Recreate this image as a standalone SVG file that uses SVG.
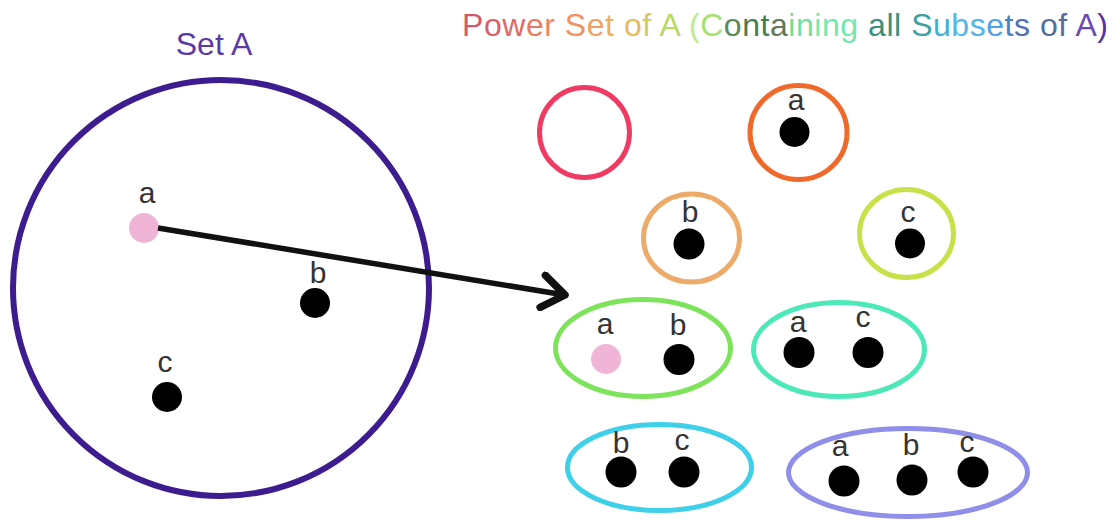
<svg xmlns="http://www.w3.org/2000/svg" width="1115" height="520" viewBox="0 0 1115 520">
<defs>
<style>
.lbl{font-family:"Liberation Sans",Arial,sans-serif;font-size:30px;fill:#333;text-anchor:middle}
.dot{fill:#000}
.pink{fill:#f0b4d6}
.set{fill:none;stroke-width:5}
.title{font-family:"Liberation Sans",Arial,sans-serif;font-size:32px}
</style>
<marker id="chev" markerUnits="userSpaceOnUse" markerWidth="40" markerHeight="40" viewBox="-22 -16 26 32" refX="0" refY="0" orient="auto">
<path d="M-18,-13 L0,0 L-18,13" fill="none" stroke="#111" stroke-width="6" stroke-linecap="round" stroke-linejoin="round"/>
</marker>
</defs>
<rect width="1115" height="520" fill="#fff"/>

<g id="title">
<text class="title" x="462" y="36" textLength="646" lengthAdjust="spacing"><tspan fill="#d05a6a">P</tspan><tspan fill="#d8606a">o</tspan><tspan fill="#e06868">w</tspan><tspan fill="#e87a62">e</tspan><tspan fill="#ec8560">r</tspan> <tspan fill="#f09060">S</tspan><tspan fill="#f0a062">e</tspan><tspan fill="#e8b060">t</tspan> <tspan fill="#e8b860">o</tspan><tspan fill="#d8c860">f</tspan> <tspan fill="#b8d860">A</tspan> <tspan fill="#c0e890">(</tspan><tspan fill="#a8e070">C</tspan><tspan fill="#5a8a58">o</tspan><tspan fill="#4a7a50">n</tspan><tspan fill="#4a7a50">t</tspan><tspan fill="#607a5a">a</tspan><tspan fill="#80d890">i</tspan><tspan fill="#70e0a0">n</tspan><tspan fill="#78e8b0">i</tspan><tspan fill="#70e8b0">n</tspan><tspan fill="#70e8b0">g</tspan> <tspan fill="#3a9080">all</tspan> <tspan fill="#40a0a0">S</tspan><tspan fill="#40b0d0">u</tspan><tspan fill="#50b8e8">b</tspan><tspan fill="#50b0f0">s</tspan><tspan fill="#50a0e8">e</tspan><tspan fill="#5080c0">t</tspan><tspan fill="#5070b0">s</tspan> <tspan fill="#5070a0">o</tspan><tspan fill="#5a6aa0">f</tspan> <tspan fill="#6a4ab0">A</tspan><tspan fill="#5a30a0">)</tspan></text>
</g>

<g id="setA">
<text x="214" y="55" font-family="Liberation Sans, Arial, sans-serif" font-size="32" fill="#5b3aa6" text-anchor="middle">Set A</text>
<circle cx="221" cy="288" r="208" fill="none" stroke="#3d1c8f" stroke-width="6"/>
<circle class="pink" cx="144" cy="228" r="15"/>
<text class="lbl" x="147" y="203">a</text>
<circle class="dot" cx="315" cy="303" r="15"/>
<text class="lbl" x="318" y="283">b</text>
<circle class="dot" cx="167" cy="397" r="15"/>
<text class="lbl" x="165" y="372">c</text>
</g>

<g id="connectors">
<path d="M158,228 L565,295" fill="none" stroke="#111" stroke-width="5.5" marker-end="url(#chev)"/>
</g>

<g id="subset-empty">
<circle class="set" cx="584.5" cy="132.5" r="45" stroke="#ef3a63"/>
</g>

<g id="subset-a">
<ellipse class="set" cx="798.5" cy="132.5" rx="48.5" ry="47" stroke="#ef6a2a"/>
<text class="lbl" x="796" y="110">a</text>
<circle class="dot" cx="794.5" cy="132" r="15"/>
</g>

<g id="subset-b">
<ellipse class="set" cx="691.5" cy="238" rx="48" ry="44" stroke="#eeaa68"/>
<text class="lbl" x="690" y="222">b</text>
<circle class="dot" cx="689" cy="244" r="15.5"/>
</g>

<g id="subset-c">
<ellipse class="set" cx="906.5" cy="233.5" rx="47" ry="44" stroke="#c8e04a"/>
<text class="lbl" x="908" y="222">c</text>
<circle class="dot" cx="910" cy="243.5" r="15"/>
</g>

<g id="subset-ab">
<ellipse class="set" cx="643" cy="348" rx="87.5" ry="48.5" stroke="#7de35a"/>
<text class="lbl" x="605" y="334">a</text>
<text class="lbl" x="678" y="335">b</text>
<circle class="pink" cx="606" cy="359" r="15"/>
<circle class="dot" cx="679" cy="359.5" r="15.5"/>
</g>

<g id="subset-ac">
<ellipse class="set" cx="839" cy="349.5" rx="85.5" ry="47" stroke="#4de8b8"/>
<text class="lbl" x="798" y="332">a</text>
<text class="lbl" x="863" y="327">c</text>
<circle class="dot" cx="799" cy="352.5" r="15.5"/>
<circle class="dot" cx="868" cy="352.5" r="15.5"/>
</g>

<g id="subset-bc">
<ellipse class="set" cx="659.5" cy="467.5" rx="92" ry="43" stroke="#3dd0e8"/>
<text class="lbl" x="621" y="453">b</text>
<text class="lbl" x="682" y="450">c</text>
<circle class="dot" cx="621" cy="472" r="15.5"/>
<circle class="dot" cx="684" cy="472" r="15.5"/>
</g>

<g id="subset-abc">
<ellipse class="set" cx="908" cy="472.5" rx="119.5" ry="44" stroke="#8f8ee8"/>
<text class="lbl" x="840" y="456">a</text>
<text class="lbl" x="911" y="455">b</text>
<text class="lbl" x="967" y="452">c</text>
<circle class="dot" cx="844" cy="481" r="15.5"/>
<circle class="dot" cx="912" cy="480" r="15.5"/>
<circle class="dot" cx="973" cy="472" r="15.5"/>
</g>
</svg>
